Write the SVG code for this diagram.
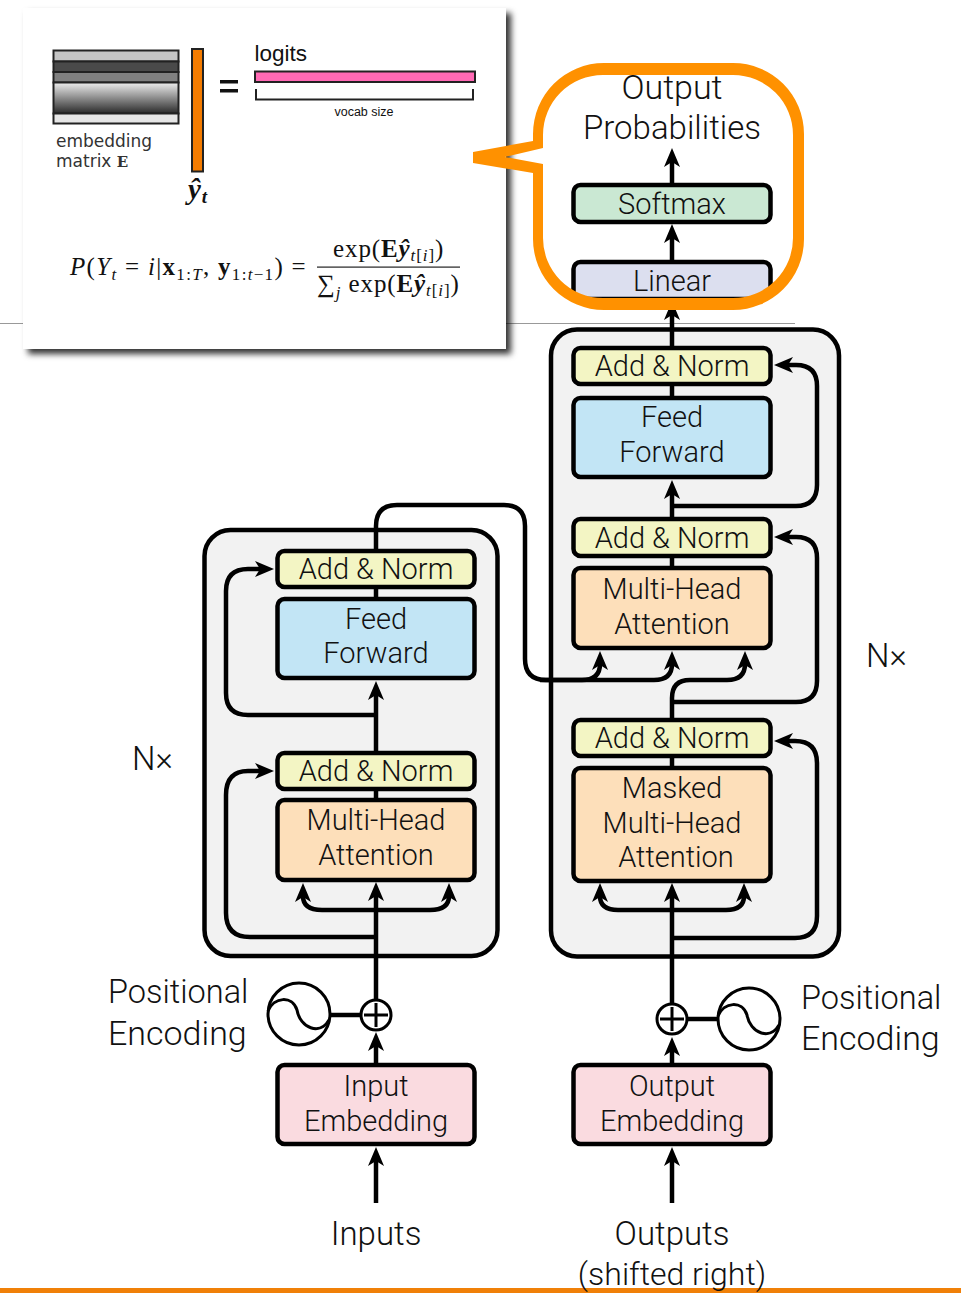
<svg xmlns="http://www.w3.org/2000/svg" width="961" height="1293" viewBox="0 0 961 1293">
<style>
text{font-family:"Roboto","Liberation Sans",sans-serif;font-weight:300;fill:#111;text-anchor:middle}
.l{font-size:29px}
.b{font-size:33px}
.s{text-anchor:start}
.box{fill:#f2f2f2;stroke:#000;stroke-width:4.5}
.n{stroke:#000;stroke-width:4.5}
.an{fill:#f3f5c4}.ff{fill:#c2e5f5}.mh{fill:#fddfba}.sm{fill:#cae8d3}.li{fill:#dcdfef}.em{fill:#fadbe0}
.c{fill:none;stroke:#000;stroke-width:4.5}
.a{marker-end:url(#arrow)}
.o{fill:#fff;stroke:#000;stroke-width:3}
.t{fill:none;stroke:#000;stroke-width:3}
.m{stroke:#222;stroke-width:2}
.f{font-family:"Liberation Serif",serif;font-weight:400;font-size:25px;letter-spacing:.9px;text-anchor:start}
.sub{font-size:17px}
.v{font-family:"DejaVu Sans",sans-serif;font-weight:400;font-size:17px;fill:#333;text-anchor:start}
.h{font-family:"Liberation Sans",sans-serif;font-weight:400}
</style>
<defs>
<marker id="arrow" markerUnits="userSpaceOnUse" markerWidth="19" markerHeight="16" refX="6" refY="8" orient="auto" viewBox="0 0 19 16"><path d="M19,8L0,0L5,8L0,16Z" fill="#000"/></marker>
<linearGradient id="g" x1="0" y1="0" x2="0" y2="1"><stop offset="0" stop-color="#eee"/><stop offset="1" stop-color="#2a2a2a"/></linearGradient>
<filter id="sh" x="-5%" y="-5%" width="112%" height="115%"><feDropShadow dx="5" dy="5" stdDeviation="3" flood-color="#000" flood-opacity=".8"/></filter>
</defs>
<rect width="961" height="1293" fill="#fff"/>
<rect x="0" y="323" width="795" height="1" fill="#999"/>
<rect x="0" y="1288" width="961" height="5" fill="#f08008"/>
<g id="encoder-stack"><rect class="box" x="204.500" y="530" width="293" height="426" rx="26"/></g>
<g id="decoder-stack"><rect class="box" x="551" y="329.500" width="288" height="627" rx="26"/></g>
<g id="connectors">
<path class="c a" d="M376,1203V1160"/>
<path class="c a" d="M672,1203V1160"/>
<path class="c a" d="M376,1065V1045"/>
<path class="c a" d="M672,1065V1050"/>
<path class="c" d="M331,1015H361"/>
<path class="c" d="M687,1019H718"/>
<path class="c a" d="M376,1000V895"/>
<path class="c a" d="M376,910H322Q303,910 303,896"/>
<path class="c a" d="M376,910H430Q449,910 449,896"/>
<path class="c a" d="M376,937H250Q226,937 226,913V795Q226,771 248,771H261"/>
<path class="c" d="M376,800V789"/>
<path class="c a" d="M376,753V694"/>
<path class="c a" d="M376,715H248Q226,715 226,693V591Q226,569 248,569H261"/>
<path class="c" d="M376,599V587"/>
<path class="c a" d="M376,551V526Q376,505 397,505H504Q525,505 525,526V659Q525,680 546,680H582Q600,680 600,664"/>
<path class="c a" d="M540,680H654Q672,680 672,664"/>
<path class="c a" d="M672,1004V896"/>
<path class="c a" d="M672,910H618Q600,910 600,896"/>
<path class="c a" d="M672,910H726Q744,910 744,896"/>
<path class="c a" d="M672,938H795Q817,938 817,916V763Q817,741 795,741H787"/>
<path class="c" d="M672,768V756"/>
<path class="c a" d="M672,720V698Q672,680 690,680H727Q745,680 745,664"/>
<path class="c a" d="M672,702H796Q817,702 817,681V558Q817,537 796,537H787"/>
<path class="c" d="M672,568V556"/>
<path class="c a" d="M672,519V493"/>
<path class="c a" d="M672,506H796Q817,506 817,485V386Q817,365 796,365H787"/>
<path class="c" d="M672,398V384"/>
<path class="c a" d="M672,348V314"/>
<path class="c a" d="M672,262V237"/>
<path class="c a" d="M672,185V161"/>
</g>
<g id="enc-pos-wave"><circle class="o" cx="299" cy="1014" r="31"/><path class="t" d="M268,1011C274,997 292,995 297,1010C300,1028 320,1036 329,1020"/></g>
<g id="enc-plus"><circle class="o" cx="376" cy="1015" r="15"/><path class="t" d="M364,1015H388M376,1003V1027"/></g>
<g id="dec-plus"><circle class="o" cx="672" cy="1019" r="15"/><path class="t" d="M660,1019H684M672,1007V1031"/></g>
<g id="dec-pos-wave"><circle class="o" cx="749" cy="1019" r="31"/><path class="t" d="M718,1016C724,1002 742,1000 747,1015C750,1033 770,1041 779,1025"/></g>
<g id="softmax"><rect class="n sm" x="573.500" y="185" width="197" height="37" rx="7"/><text class="l" x="672" y="214">Softmax</text></g>
<g id="linear"><rect class="n li" x="573.500" y="262" width="197" height="37" rx="7"/><text class="l" x="672" y="291">Linear</text></g>
<g id="dec-addnorm-3"><rect class="n an" x="573.500" y="348" width="197" height="36" rx="7"/><text class="l" x="672" y="376">Add &amp; Norm</text></g>
<g id="dec-ff"><rect class="n ff" x="573.500" y="398" width="197" height="79" rx="7"/><text class="l" x="672" y="427">Feed</text><text class="l" x="672" y="462">Forward</text></g>
<g id="dec-addnorm-2"><rect class="n an" x="573.500" y="519" width="197" height="37" rx="7"/><text class="l" x="672" y="548">Add &amp; Norm</text></g>
<g id="dec-mha"><rect class="n mh" x="573.500" y="568" width="197" height="80" rx="7"/><text class="l" x="672" y="599">Multi-Head</text><text class="l" x="672" y="634">Attention</text></g>
<g id="dec-addnorm-1"><rect class="n an" x="573.500" y="720" width="197" height="36" rx="7"/><text class="l" x="672" y="748">Add &amp; Norm</text></g>
<g id="dec-masked"><rect class="n mh" x="573.500" y="768" width="197" height="113" rx="7"/><text class="l" x="672" y="798">Masked</text><text class="l" x="672" y="833">Multi-Head</text><text class="l" x="676" y="867">Attention</text></g>
<g id="enc-addnorm-2"><rect class="n an" x="277.500" y="551" width="197" height="36" rx="7"/><text class="l" x="376" y="579">Add &amp; Norm</text></g>
<g id="enc-ff"><rect class="n ff" x="277.500" y="599" width="197" height="79" rx="7"/><text class="l" x="376" y="629">Feed</text><text class="l" x="376" y="663">Forward</text></g>
<g id="enc-addnorm-1"><rect class="n an" x="277.500" y="753" width="197" height="36" rx="7"/><text class="l" x="376" y="781">Add &amp; Norm</text></g>
<g id="enc-mha"><rect class="n mh" x="277.500" y="800" width="197" height="80" rx="7"/><text class="l" x="376" y="830">Multi-Head</text><text class="l" x="376" y="865">Attention</text></g>
<g id="input-embedding"><rect class="n em" x="277.500" y="1065" width="197" height="79" rx="7"/><text class="l" x="376" y="1096">Input</text><text class="l" x="376" y="1131">Embedding</text></g>
<g id="output-embedding"><rect class="n em" x="573.500" y="1065" width="197" height="79" rx="7"/><text class="l" x="672" y="1096">Output</text><text class="l" x="672" y="1131">Embedding</text></g>
<g id="labels">
<text class="b" x="672" y="99" style="font-size:34px">Output</text>
<text class="b" x="672" y="139">Probabilities</text>
<text class="b s" x="132" y="770">N×</text>
<text class="b s" x="866" y="667">N×</text>
<text class="b s" x="108" y="1003" style="font-size:32.500px">Positional</text>
<text class="b s" x="108" y="1045" style="font-size:34px">Encoding</text>
<text class="b s" x="801" y="1009" style="font-size:32.500px">Positional</text>
<text class="b s" x="801" y="1050" style="font-size:34px">Encoding</text>
<text class="b" x="376" y="1245">Inputs</text>
<text class="b" x="672" y="1245">Outputs</text>
<text class="b" x="672" y="1285" style="font-size:32px">(shifted right)</text>
</g>
<g id="inset">
<rect x="23" y="8" width="483" height="341" fill="#fff" filter="url(#sh)"/>
<rect class="m" x="53.500" y="50.500" width="125" height="11" fill="#c4c4c4"/>
<rect class="m" x="53.500" y="61.500" width="125" height="10.500" fill="#4a4a4a"/>
<rect class="m" x="53.500" y="72" width="125" height="10.500" fill="#808080"/>
<rect class="m" x="53.500" y="82.500" width="125" height="31" fill="url(#g)"/>
<rect class="m" x="53.500" y="113.500" width="125" height="10" fill="#e6e6e6"/>
<rect class="m" x="192" y="49" width="11" height="122.500" fill="#f57c00"/>
<rect x="220" y="80" width="18" height="3.500" fill="#111"/>
<rect x="220" y="89" width="18" height="3.500" fill="#111"/>
<text class="h" x="254.500" y="61" style="text-anchor:start;font-size:22.500px">logits</text>
<rect class="m" x="255" y="71.500" width="220" height="10.500" fill="#ff69b4"/>
<path class="m" fill="none" d="M256,89V99.500H473V89"/>
<text class="h" x="364" y="116" style="font-size:12.500px">vocab size</text>
<text class="v" x="56" y="147">embedding</text>
<text class="v" x="56" y="167">matrix <tspan style="font-family:'DejaVu Serif',serif;font-weight:700;font-size:15px">E</tspan></text>
<text class="f" x="188" y="199" style="font-weight:700;font-style:italic;font-size:29px">ŷ<tspan dy="4" style="font-size:19px">t</tspan></text>
<text class="f" x="70" y="275" style="letter-spacing:1.300px"><tspan font-style="italic">P</tspan>(<tspan font-style="italic">Y</tspan><tspan class="sub" dy="5" font-style="italic">t</tspan><tspan dy="-5"> = </tspan><tspan font-style="italic">i</tspan>|<tspan font-weight="700">x</tspan><tspan class="sub" dy="5">1:<tspan font-style="italic">T</tspan></tspan><tspan dy="-5">, </tspan><tspan font-weight="700">y</tspan><tspan class="sub" dy="5">1:<tspan font-style="italic">t</tspan>−1</tspan><tspan dy="-5">) =</tspan></text>
<text class="f" x="333" y="257">exp(<tspan font-weight="700">E</tspan><tspan font-weight="700" font-style="italic">ŷ</tspan><tspan class="sub" dy="4"><tspan font-style="italic">t</tspan>[<tspan font-style="italic">i</tspan>]</tspan><tspan dy="-4">)</tspan></text>
<rect x="317" y="266.500" width="143" height="1.200" fill="#222"/>
<text class="f" x="317" y="292">∑<tspan class="sub" dy="6" font-style="italic">j</tspan><tspan dy="-6"> exp(</tspan><tspan font-weight="700">E</tspan><tspan font-weight="700" font-style="italic">ŷ</tspan><tspan class="sub" dy="4"><tspan font-style="italic">t</tspan>[<tspan font-style="italic">i</tspan>]</tspan><tspan dy="-4">)</tspan></text>
</g>
<g id="callout"><path fill="#ff9100" fill-rule="evenodd" d="M604,63H733A71,71 0 0 1 804,134V239A71,71 0 0 1 733,310H604A71,71 0 0 1 533,239V173L473,163V152L533,141V134A71,71 0 0 1 604,63ZM603,75A60,60 0 0 0 543,135V148L505,157L543,164V238A60,60 0 0 0 603,298H733A60,60 0 0 0 793,238V135A60,60 0 0 0 733,75Z"/></g>
</svg>
